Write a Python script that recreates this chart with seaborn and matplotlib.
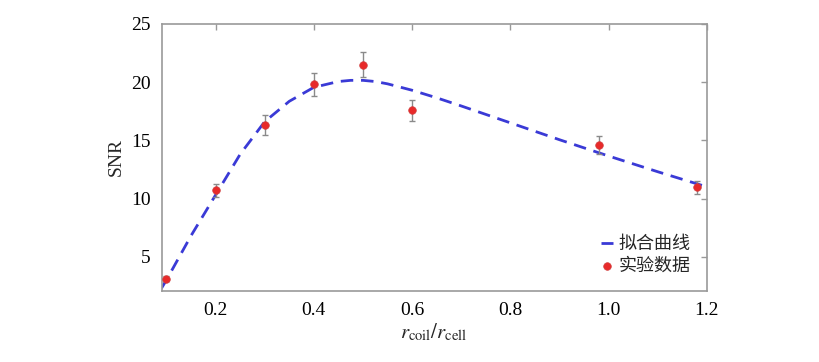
import numpy as np
import pandas as pd
import matplotlib
matplotlib.use("Agg")
import matplotlib.pyplot as plt
import seaborn as sns

# experimental data
x_data = [0.10, 0.20, 0.30, 0.40, 0.50, 0.60, 0.98, 1.18]
snr_data = [3.1, 10.7, 16.3, 19.8, 21.5, 17.6, 14.6, 10.95]
snr_err = [0.2, 0.55, 0.85, 1.0, 1.1, 0.9, 0.75, 0.55]

# fitted curve
x_fit = [0.09, 0.10, 0.15, 0.20, 0.25, 0.30, 0.35, 0.40, 0.45, 0.475, 0.50,
         0.525, 0.55, 0.60, 0.65, 0.70, 0.80, 0.90, 1.00, 1.10, 1.20]
snr_fit = [2.3, 3.0, 6.8, 10.3, 13.8, 16.6, 18.35, 19.55, 20.05, 20.15, 20.15,
           20.05, 19.85, 19.3, 18.65, 17.95, 16.5, 15.05, 13.65, 12.3, 11.0]

x_ticks = [0.2, 0.4, 0.6, 0.8, 1.0, 1.2]
x_tick_labels = ["0.2", "0.4", "0.6", "0.8", "1.0", "1.2"]
y_ticks = [5, 10, 15, 20, 25]
y_tick_labels = ["5", "10", "15", "20", "25"]
labels = ["拟合曲线", "实验数据"]

sns.set_style("white")
plt.rcParams["font.family"] = ["Liberation Serif", "Noto Sans CJK SC"]
plt.rcParams["mathtext.fontset"] = "stix"

fig = plt.figure(figsize=(8.2, 3.62), dpi=100)
ax = fig.add_axes([0.197, 0.196, 0.665, 0.738])

fit_df = pd.DataFrame({"x": x_fit, "y": snr_fit})
data_df = pd.DataFrame({"x": x_data, "y": snr_data})

sns.lineplot(data=fit_df, x="x", y="y", ax=ax, color="#3a3ad6",
             linewidth=2.0, dashes=False, label=labels[0], zorder=2)
ax.lines[-1].set_dashes([4.5, 2.8])

ax.errorbar(x_data, snr_data, yerr=snr_err, fmt="none", ecolor="#8a8a8a",
            elinewidth=1.0, capsize=2, capthick=1.0, zorder=3)
sns.scatterplot(data=data_df, x="x", y="y", ax=ax, color="#e82a2a",
                s=30, edgecolor="#d04040", linewidth=0.5, label=labels[1], zorder=4)

ax.set_xlim(0.09, 1.2)
ax.set_ylim(2.05, 25)
ax.set_xticks(x_ticks)
ax.set_xticklabels(x_tick_labels)
ax.set_yticks(y_ticks)
ax.set_yticklabels(y_tick_labels)
ax.tick_params(direction="in", length=4, width=1, color="#999999",
               top=True, right=True, labelsize=14, labelcolor="black", pad=8)
for s in ax.spines.values():
    s.set_color("#999999")
    s.set_linewidth(1.2)

ax.set_xlabel(r"$r_{\rm coil}/r_{\rm cell}$", fontsize=15, labelpad=2)
ax.set_ylabel("SNR", fontsize=14, labelpad=4)

leg = ax.legend(loc="lower right", bbox_to_anchor=(1.0, 0.0), frameon=False,
                handlelength=0.7, handletextpad=0.3, labelspacing=0.2,
                prop={"family": ["Noto Sans CJK SC"], "size": 13})
for h in leg.legend_handles:
    try:
        h.set_sizes([30])
    except Exception:
        pass

fig.savefig("out.png", dpi=100)
